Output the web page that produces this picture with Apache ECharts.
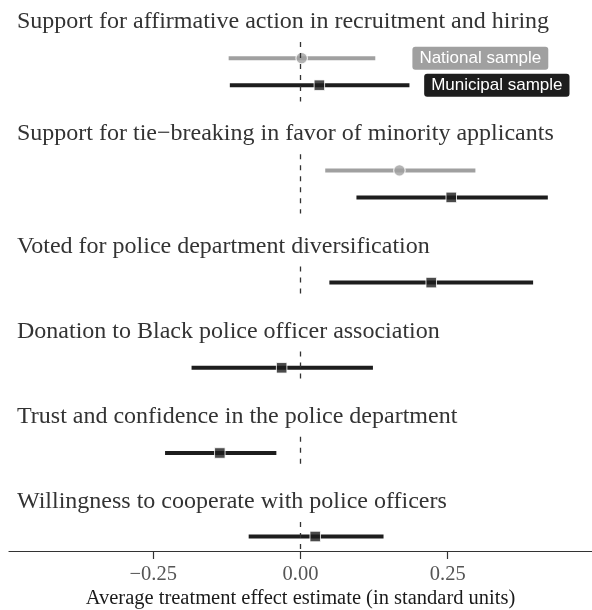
<!DOCTYPE html>
<html>
<head>
<meta charset="utf-8">
<script src="https://cdn.jsdelivr.net/npm/echarts@6/dist/echarts.min.js"></script>
<style>
  html, body { margin: 0; padding: 0; background: #fff; }
  #chart { width: 592px; height: 610px; }
</style>
</head>
<body>
<div id="chart"></div>
<script>
// Outcome panels, top to bottom
const panelTitles = [
  'Support for affirmative action in recruitment and hiring',
  'Support for tie\u2212breaking in favor of minority applicants',
  'Voted for police department diversification',
  'Donation to Black police officer association',
  'Trust and confidence in the police department',
  'Willingness to cooperate with police officers'
];

// Municipal sample: estimate and 95% interval for every panel
const municipalEst = [0.032, 0.256, 0.222, -0.032, -0.137, 0.025];
const municipalLo  = [-0.120, 0.095, 0.049, -0.185, -0.230, -0.088];
const municipalHi  = [0.185, 0.420, 0.395, 0.123, -0.041, 0.141];

// National sample: only measured for the first two outcomes
const nationalEst = [0.002, 0.168];
const nationalLo  = [-0.122, 0.042];
const nationalHi  = [0.127, 0.297];

const sampleNames = ['National sample', 'Municipal sample'];
const tickValues = [-0.25, 0, 0.25];
const axisTitle = 'Average treatment effect estimate (in standard units)';

const GREY = '#a0a0a0';
const BLACK = '#1d1d1d';
const X_MIN = -0.495, X_MAX = 0.495;

// Panel layout: each row takes a fixed band, panels separated by strip space
const ROW = 27, FIRST_TOP = 42, GAP = 52.8, LEFT = 9, WIDTH = 584;
const panels = [];
let panelTop = FIRST_TOP;
panelTitles.forEach((t, i) => {
  const nRows = i < nationalEst.length ? 2 : 1;
  const height = (nRows - 1 + 1.2) * ROW;
  panels.push({ top: panelTop, height, nRows });
  panelTop += height + GAP;
});

const grids = [], xAxes = [], yAxes = [], series = [], graphics = [];

panels.forEach((p, i) => {
  const last = i === panels.length - 1;
  grids.push({ left: LEFT, width: WIDTH, top: p.top, height: p.height });
  xAxes.push({
    gridIndex: i, type: 'value', min: X_MIN, max: X_MAX,
    show: last,
    splitLine: { show: false },
    axisLine: { show: last, onZero: false, lineStyle: { color: '#333', width: 1.2 } },
    axisTick: { show: last, customValues: tickValues, length: 8, lineStyle: { color: '#333', width: 1.2 } },
    axisLabel: {
      show: last, customValues: tickValues, margin: 13,
      fontFamily: 'Liberation Serif', fontSize: 20.5, color: '#555',
      formatter: v => (v < 0 ? '\u2212' : '') + Math.abs(v).toFixed(2)
    },
    name: last ? axisTitle : '',
    nameLocation: 'middle', nameGap: 37,
    nameTextStyle: { fontFamily: 'Liberation Serif', fontSize: 20.5, color: '#1a1a1a' }
  });
  yAxes.push({
    gridIndex: i, type: 'value', inverse: true, show: false,
    min: -0.6, max: p.nRows - 1 + 0.6
  });

  // rows: national on row 0 (if present), municipal below it
  const intervals = [];
  const hasNational = i < nationalEst.length;
  const munRow = hasNational ? 1 : 0;
  if (hasNational) intervals.push([nationalLo[i], nationalHi[i], 0, 0]);
  intervals.push([municipalLo[i], municipalHi[i], munRow, 1]);

  // reference line at zero
  series.push({
    type: 'scatter', xAxisIndex: i, yAxisIndex: i, data: [], z: 1, silent: true,
    markLine: {
      silent: true, symbol: 'none', label: { show: false },
      lineStyle: { type: [5, 6], color: '#333', width: 1.3 },
      data: [{ xAxis: 0 }]
    }
  });

  // interval bars
  series.push({
    type: 'custom', xAxisIndex: i, yAxisIndex: i, z: 2, silent: true,
    encode: { x: [0, 1], y: 2 },
    data: intervals,
    renderItem: (params, api) => {
      const a = api.coord([api.value(0), api.value(2)]);
      const b = api.coord([api.value(1), api.value(2)]);
      return {
        type: 'line',
        shape: { x1: a[0], y1: a[1], x2: b[0], y2: b[1] },
        style: { stroke: api.value(3) === 0 ? GREY : BLACK, lineWidth: 4, lineCap: 'butt' }
      };
    }
  });

  if (hasNational) {
    series.push({
      type: 'scatter', xAxisIndex: i, yAxisIndex: i, z: 3, silent: true,
      symbol: 'circle', symbolSize: 11.5,
      itemStyle: { color: GREY, borderColor: '#fff', borderWidth: 1.2 },
      data: [[nationalEst[i], 0]]
    });
  }
  series.push({
    type: 'scatter', xAxisIndex: i, yAxisIndex: i, z: 3, silent: true,
    symbol: 'rect', symbolSize: 10.5,
    itemStyle: { color: BLACK, borderColor: '#fff', borderWidth: 1 },
    data: [[municipalEst[i], munRow]]
  });

  graphics.push({
    type: 'text', x: 17, y: p.top - 20, silent: true,
    style: {
      text: panelTitles[i], font: '24px "Liberation Serif"', fill: '#333',
      textAlign: 'left', textVerticalAlign: 'middle'
    }
  });
});

// Sample key, drawn as labels beside the first panel's rows
series.push({
  type: 'custom', xAxisIndex: 0, yAxisIndex: 0, z: 4, silent: true,
  encode: { x: 0, y: 1 },
  data: [[0.19, 0, 0], [0.21, 1, 1]],
  renderItem: (params, api) => {
    const pt = api.coord([api.value(0), api.value(1)]);
    const k = api.value(2);
    return {
      type: 'text', x: pt[0], y: pt[1],
      style: {
        text: sampleNames[k], fill: '#fff',
        font: '17px "Liberation Sans"',
        align: 'left', verticalAlign: 'middle',
        backgroundColor: k === 0 ? GREY : BLACK,
        padding: [3, 7, 3, 7], borderRadius: 3
      }
    };
  }
});

const chart = echarts.init(document.getElementById('chart'), null, { renderer: 'canvas' });
chart.setOption({
  animation: false,
  backgroundColor: '#fff',
  grid: grids, xAxis: xAxes, yAxis: yAxes, series,
  graphic: graphics
});
</script>
</body>
</html>
